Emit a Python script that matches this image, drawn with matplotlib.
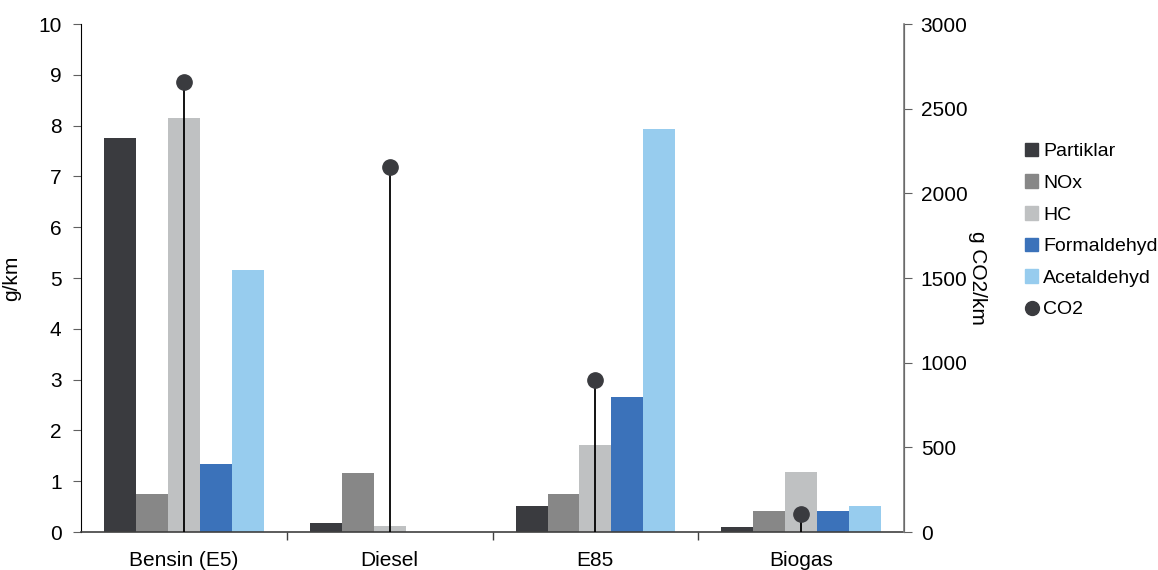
import numpy as np
import matplotlib.pyplot as plt
from matplotlib.lines import Line2D
from matplotlib.patches import Patch

plt.rcParams['font.family'] = ['Liberation Sans', 'DejaVu Sans']

# emissions per fuel (g/km), CO2 on its own axis (g CO2/km)
fuels = ["Bensin (E5)", "Diesel", "E85", "Biogas"]
partiklar = [7.76, 0.18, 0.51, 0.10]
nox = [0.75, 1.16, 0.75, 0.41]
hc = [8.15, 0.12, 1.71, 1.18]
formaldehyd = [1.34, 0.0, 2.66, 0.41]
acetaldehyd = [5.16, 0.0, 7.93, 0.51]
co2 = [2660, 2155, 900, 105]

series = [("Partiklar", partiklar, "#3a3b3f"),
          ("NOx", nox, "#878787"),
          ("HC", hc, "#bfc1c2"),
          ("Formaldehyd", formaldehyd, "#3b72ba"),
          ("Acetaldehyd", acetaldehyd, "#97ccee")]

fs = 15

fig = plt.figure(figsize=(11.58, 5.70), dpi=100)
ax = fig.add_axes([81 / 1158, 1 - 532 / 570, 823 / 1158, 508 / 570])
ax2 = ax.twinx()

x = np.arange(len(fuels))
w = 0.155
for i, (name, vals, col) in enumerate(series):
    ax.bar(x + (i - 2) * w, vals, w, color=col, zorder=2)

# CO2 as lollipops on the right axis
ax2.vlines(x, 0, co2, color="black", lw=1.3, zorder=3)
ax2.plot(x, co2, "o", color="#3a3b3f", markersize=11, zorder=4)

ax.set_xlim(-0.5, len(fuels) - 0.5)
ax.set_ylim(0, 10)
ax.set_yticks(range(0, 11))
ax2.set_ylim(0, 3000)
ax2.set_yticks(range(0, 3001, 500))

ax.set_xticks(x)
ax.set_xticklabels(fuels, fontsize=fs)
ax.set_xticks(np.arange(0.5, len(fuels) - 0.5, 1), minor=True)
ax.tick_params(axis="x", which="major", length=0, pad=14)
ax.tick_params(axis="x", which="minor", length=6, width=1, color="#404040", direction="out")
ax.tick_params(axis="y", labelsize=fs, length=6, color="#606060", pad=8)
ax2.tick_params(axis="y", labelsize=fs, length=6, color="#606060", pad=6)

ax.set_ylabel("g/km", fontsize=fs, labelpad=12)
ax2.set_ylabel("g CO2/km", fontsize=fs, rotation=-90, labelpad=14)

for a in (ax, ax2):
    a.spines["top"].set_visible(False)
ax.spines["left"].set_color("black")
ax.spines["bottom"].set_color("#404040")
ax.spines["bottom"].set_linewidth(1.2)
ax2.spines["left"].set_visible(False)
ax2.spines["bottom"].set_visible(False)
ax2.spines["right"].set_color("#808080")
ax2.spines["right"].set_linewidth(1.2)

handles = [Patch(color=c, label=n) for n, _, c in series]
handles.append(Line2D([], [], marker="o", ls="", color="#3a3b3f", markersize=10, label="CO2"))
fig.legend(handles=handles, loc="upper left", bbox_to_anchor=(1017 / 1158, 1 - 135 / 570),
           frameon=False, fontsize=14, handlelength=0.7, handleheight=0.7,
           handletextpad=0.25, labelspacing=0.72, borderaxespad=0)

fig.savefig("out.png", dpi=100)
